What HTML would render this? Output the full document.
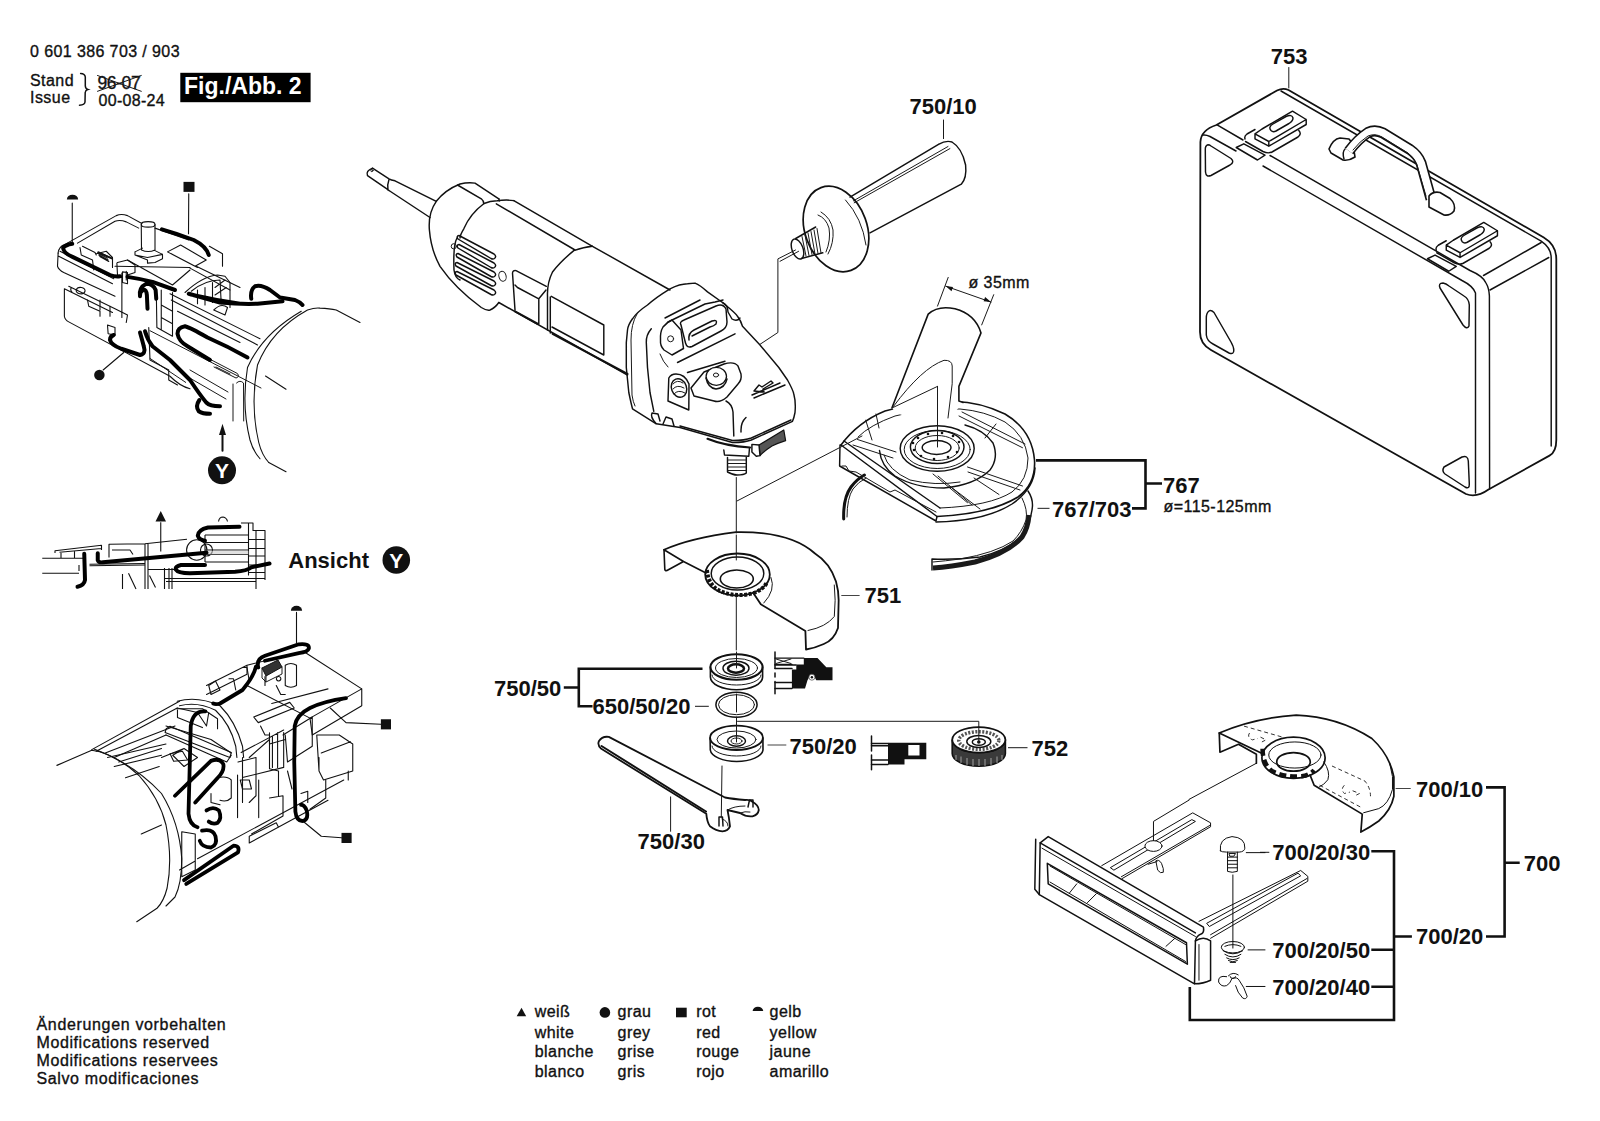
<!DOCTYPE html>
<html><head><meta charset="utf-8">
<style>
html,body{margin:0;padding:0;background:#fff;width:1600px;height:1121px;overflow:hidden}
svg{display:block}
text{font-family:"Liberation Sans",sans-serif;fill:#111}
.r{font-size:16px;letter-spacing:0.45px;stroke:#111;stroke-width:0.35px}
.b{font-size:22px;font-weight:bold}
.k{fill:none;stroke:#111;stroke-width:1.45;stroke-linecap:round;stroke-linejoin:round}
.t{fill:none;stroke:#1a1a1a;stroke-width:1.0;stroke-linecap:round;stroke-linejoin:round}
.br{fill:none;stroke:#111;stroke-width:2.6;stroke-linecap:butt;stroke-linejoin:miter}
.ld{fill:none;stroke:#444;stroke-width:1.2}
.w{fill:none;stroke:#111;stroke-width:4;stroke-linecap:round;stroke-linejoin:round}
.f{fill:#111;stroke:none}
.wf{fill:#fff;stroke:#111;stroke-width:1.3;stroke-linejoin:round}
</style></head><body>
<svg width="1600" height="1121" viewBox="0 0 1600 1121">
<!-- HEADER -->
<g id="header">
<text class="r" x="30" y="57.2" style="letter-spacing:0.4px">0 601 386 703 / 903</text>
<text class="r" x="30" y="86.3">Stand</text>
<text class="r" x="30" y="103.3">Issue</text>
<text class="r" x="97.5" y="88.6" style="font-size:17.5px;letter-spacing:-0.4px">96-07</text>
<path class="t" d="M97.5 75.5 L141.3 91.3 M97.5 91.3 L141.3 75.5"/>
<text class="r" x="98.5" y="105.6" style="letter-spacing:0.3px">00-08-24</text>
<path style="fill:none;stroke:#111;stroke-width:1.5;stroke-linecap:round" d="M80.6 73.4 Q85 73.5 85.3 77 L85.3 86 Q85.5 88.8 87.8 89.4 Q85.5 90 85.2 92.5 L85 102 Q84.8 105 79.5 105.2"/>
<rect x="180.3" y="72.8" width="130.3" height="29.4" fill="#000"/>
<text x="184" y="93.8" style="font-size:23px;font-weight:bold;fill:#fff">Fig./Abb. 2</text>
</g>

<!-- LABELS -->
<g id="labels">
<text class="b" x="909.5" y="113.5">750/10</text>
<text class="b" x="1270.8" y="63.8">753</text>
<text class="r" x="968.5" y="287.6">ø 35mm</text>
<text class="b" x="1163" y="492.5">767</text>
<text class="r" x="1163.5" y="512">ø=115-125mm</text>
<text class="b" x="1052" y="516.5">767/703</text>
<text class="b" x="864.5" y="603.4">751</text>
<text class="b" x="494" y="696.3">750/50</text>
<text class="b" x="592.5" y="713.8">650/50/20</text>
<text class="b" x="789.5" y="753.8">750/20</text>
<text class="b" x="1031.5" y="755.5">752</text>
<text class="b" x="637.6" y="849.4">750/30</text>
<text class="b" x="1416" y="796.7">700/10</text>
<text class="b" x="1272.3" y="860.4">700/20/30</text>
<text class="b" x="1523.8" y="870.9">700</text>
<text class="b" x="1416" y="943.9">700/20</text>
<text class="b" x="1272.3" y="957.8">700/20/50</text>
<text class="b" x="1272.3" y="994.9">700/20/40</text>
<text class="b" x="288.3" y="567.5">Ansicht</text>
<circle cx="396.3" cy="560" r="13.8" class="f"/>
<text x="396.3" y="567.5" text-anchor="middle" style="font-size:21px;font-weight:bold;fill:#fff">Y</text>
<circle cx="222" cy="470.3" r="14" class="f"/>
<text x="222" y="478" text-anchor="middle" style="font-size:21px;font-weight:bold;fill:#fff">Y</text>
</g>

<!-- BRACKETS -->
<g id="brackets">
<path class="br" d="M1036 460.4 H1145.5 V508.4 H1132 M1145.5 483.5 H1162"/>
<path class="ld" d="M1037.5 508.4 H1049.5"/>
<path class="br" d="M563.8 687.5 H578.8 M702.5 668.8 H578.8 V706.3 H592.5"/>
<path class="ld" d="M695 706.3 H708.8 M767.5 745 H786.3 M841.3 595.5 H859.6 M1008 747.7 H1027.5"/>
<path class="br" d="M1486 787.4 H1504.6 V936.5 H1486 M1504.6 862.7 H1519.7"/>
<path class="br" d="M1371.3 851.2 H1394 V1020 H1189.8 V987 M1394 936.5 H1411.9 M1371.3 949.7 H1394 M1371.3 986.8 H1394"/>
<path class="ld" d="M1395.6 788.5 H1410.7 M1260 852.3 H1269.3"/>
</g>

<!-- NOTES -->
<g id="notes" style="letter-spacing:0.55px">
<text class="r" x="36.5" y="1029.8" style="letter-spacing:0.66px">Änderungen vorbehalten</text>
<text class="r" x="36.5" y="1048" style="letter-spacing:0.6px">Modifications reserved</text>
<text class="r" x="36.5" y="1065.8" style="letter-spacing:0.6px">Modifications reservees</text>
<text class="r" x="36.5" y="1084.2" style="letter-spacing:0.62px">Salvo modificaciones</text>
</g>

<!-- LEGEND -->
<g id="legend">
<path class="f" d="M516.7 1016.2 L526.2 1016.2 L521.5 1007.7 Z"/>
<circle class="f" cx="604.9" cy="1012.4" r="5.3"/>
<rect class="f" x="676" y="1007.7" width="10.7" height="9.6"/>
<path class="f" d="M752.6 1011 A5.3 4.3 0 0 1 763.2 1011 Z"/>
<text class="r" x="534.7" y="1017.3">weiß</text>
<text class="r" x="534.7" y="1037.5">white</text>
<text class="r" x="534.7" y="1057.3">blanche</text>
<text class="r" x="534.7" y="1076.8">blanco</text>
<text class="r" x="617.6" y="1017.3">grau</text>
<text class="r" x="617.6" y="1037.5">grey</text>
<text class="r" x="617.6" y="1057.3">grise</text>
<text class="r" x="617.6" y="1076.8">gris</text>
<text class="r" x="696.2" y="1017.3">rot</text>
<text class="r" x="696.2" y="1037.5">red</text>
<text class="r" x="696.2" y="1057.3">rouge</text>
<text class="r" x="696.2" y="1076.8">rojo</text>
<text class="r" x="769.6" y="1017.3">gelb</text>
<text class="r" x="769.6" y="1037.5">yellow</text>
<text class="r" x="769.6" y="1057.3">jaune</text>
<text class="r" x="769.6" y="1076.8">amarillo</text>
</g>

<!-- DRAWINGS -->
<g id="drawings">

<g id="g700" transform="translate(1200 700) scale(0.1375)">
<g style="fill:none;stroke:#111;stroke-width:1.7;stroke-linejoin:round;stroke-linecap:round">
<path vector-effect="non-scaling-stroke" d="M140 240 Q400 130 700 110 Q1000 120 1250 280 Q1380 400 1410 560 L1410 700 Q1390 800 1300 880 Q1230 930 1170 960 L1180 830 L830 620 L800 545"/>
<path vector-effect="non-scaling-stroke" d="M140 240 L145 380 L280 322 L410 395 L410 460 M140 240 L460 392"/>
<ellipse vector-effect="non-scaling-stroke" cx="680" cy="420" rx="230" ry="150"/>
<ellipse vector-effect="non-scaling-stroke" cx="680" cy="450" rx="122" ry="68"/>
</g>
<g style="fill:none;stroke:#111;stroke-width:1;stroke-linejoin:round;stroke-linecap:round">
<ellipse vector-effect="non-scaling-stroke" cx="690" cy="400" rx="190" ry="95"/>
<path vector-effect="non-scaling-stroke" d="M410 460 L-80 723 M1380 460 Q1410 560 1400 650 Q1370 760 1300 790 L1190 820 M900 450 Q950 520 930 580 Q900 620 870 630"/>
</g>
<g style="fill:none;stroke:#333;stroke-width:1;stroke-dasharray:4 3">
<path vector-effect="non-scaling-stroke" d="M320 190 L600 270 M960 480 L1200 590 Q1240 640 1240 700 M870 620 L1170 780 M360 240 Q340 270 380 290 L420 280 M440 270 L480 290 L450 305 M1050 620 Q1020 650 1050 680 L1090 670 M1110 660 L1160 680 L1120 700"/>
</g>
<path style="fill:none;stroke:#111;stroke-width:4.5;stroke-dasharray:7 4" vector-effect="non-scaling-stroke" d="M455 355 Q455 470 530 520 Q620 565 740 555 Q800 545 830 510"/>
</g>
<g id="g700b" transform="translate(1025 800) scale(0.17844)">
<g style="fill:none;stroke:#111;stroke-width:1.5;stroke-linejoin:round;stroke-linecap:round">
<!-- fence -->
<path vector-effect="non-scaling-stroke" d="M85 240 L130 205 L1000 712 Q1005 740 990 750 Q960 760 955 790 L950 1030 L80 530 L85 240 Z"/>
<path vector-effect="non-scaling-stroke" d="M85 240 L955 745 M955 790 Q1000 760 1040 790 L1040 1010 Q1000 1030 950 1030"/>
<path vector-effect="non-scaling-stroke" d="M60 220 L55 500 L80 530"/>
<path vector-effect="non-scaling-stroke" d="M125 355 L905 800 L910 920 L130 470 Z"/>
</g>
<g style="fill:none;stroke:#111;stroke-width:1;stroke-linejoin:round;stroke-linecap:round">
<path vector-effect="non-scaling-stroke" d="M95 270 L955 765 M140 370 L900 810 M140 460 L900 905 M250 520 L290 470 M350 575 L400 525 M790 820 L840 775 M975 810 L975 1010"/>
<!-- rod 1 -->
<path vector-effect="non-scaling-stroke" d="M430 368 L940 72 L1040 128 L1040 150 L545 440 M480 378 L935 110 L955 120 L500 392 Z M540 430 L1040 140"/>
<!-- rod 2 -->
<path vector-effect="non-scaling-stroke" d="M975 680 L1545 395 L1585 428 L1585 455 L1040 775 M1020 690 L1530 410 L1545 425 L1035 708 Z M1040 755 L1580 440"/>
<!-- screw head on rod -->
<ellipse vector-effect="non-scaling-stroke" cx="720" cy="258" rx="48" ry="30" style="fill:#fff"/>
<path vector-effect="non-scaling-stroke" d="M720 228 L720 120 L920 0"/>
<path vector-effect="non-scaling-stroke" d="M735 340 Q750 330 765 355 Q780 390 775 405 Q760 415 745 395 Z M690 360 L740 345"/>
<!-- carriage bolt -->
<path vector-effect="non-scaling-stroke" d="M1095 285 Q1085 215 1160 205 Q1235 210 1232 270 Q1230 290 1200 292 L1130 292 Q1100 292 1095 285 Z"/>
<path vector-effect="non-scaling-stroke" d="M1135 292 L1135 400 Q1160 410 1190 400 L1190 292 M1135 320 L1190 320 M1135 340 L1190 340 M1135 360 L1190 360 M1135 380 L1190 380 M1145 300 L1180 300 L1170 315 L1150 315 Z"/>
<path vector-effect="non-scaling-stroke" d="M1165 420 L1165 830"/>
<!-- cone -->
<ellipse vector-effect="non-scaling-stroke" cx="1165" cy="825" rx="65" ry="32"/>
<path vector-effect="non-scaling-stroke" d="M1110 845 Q1165 880 1220 845 M1120 865 Q1165 895 1210 865 M1130 885 Q1165 905 1200 885 M1140 900 Q1165 915 1190 900 M1150 910 L1180 910 M1120 820 Q1165 800 1210 820"/>
<!-- wing nut -->
<path vector-effect="non-scaling-stroke" d="M1130 990 Q1080 980 1085 1020 Q1100 1050 1130 1040 Q1150 1030 1160 1000 Q1190 990 1200 1010 Q1230 1050 1245 1100 Q1240 1120 1220 1110 Q1190 1080 1180 1040 M1140 985 Q1165 960 1195 980 M1150 990 A15 10 0 1 0 1180 990"/>
<!-- leaders -->
<path vector-effect="non-scaling-stroke" d="M1240 295 L1345 295 M1250 840 L1345 840 M1240 1045 L1345 1045"/>
</g>
</g>

<path style="fill:#333;stroke:#111;stroke-width:1" d="M262 668 L278 660 L282 667 L266 676 Z"/>
<path class="t" d="M262 668 L262 678 L266 682 L266 676 M282 667 L282 674 L266 682"/>
<g id="wd2" transform="translate(40 600) scale(0.225)">
<g style="fill:none;stroke:#111;stroke-width:1.1;stroke-linejoin:round;stroke-linecap:round">
<path vector-effect="non-scaling-stroke" d="M1140 55 L1140 190 M1290 480 L1360 545 L1515 552 M1165 980 L1250 1050 L1340 1057"/>
<!-- cylinder -->
<path vector-effect="non-scaling-stroke" d="M75 735 L230 668 Q330 680 440 780 Q530 880 560 1000 Q590 1150 565 1280 Q550 1340 520 1370 L430 1430"/>
<path vector-effect="non-scaling-stroke" d="M240 662 Q420 730 540 860 Q620 990 630 1150 Q630 1260 600 1320 L560 1360 M450 1040 L540 1000"/>
<path vector-effect="non-scaling-stroke" d="M230 665 L620 450 M250 672 L610 480 M290 680 L600 560 M330 700 L560 600 M350 720 L540 660"/>
<!-- arch -->
<path vector-effect="non-scaling-stroke" d="M610 450 Q700 425 800 470 Q870 540 900 650 L905 700 M620 470 Q700 450 780 490 Q845 550 870 650 L875 700"/>
<!-- housing top -->
<path vector-effect="non-scaling-stroke" d="M740 380 L920 290 L1170 228 L1430 395 L1430 470 L1210 600 L1200 525 L1430 395 M1200 525 L920 380 M1000 340 L1000 380 M920 290 L920 330 L740 420"/>
<path vector-effect="non-scaling-stroke" d="M950 520 L1110 455 L1130 480 L970 545 Z M1030 460 L1280 395 M980 560 L1000 600 L1020 600"/>
<path vector-effect="non-scaling-stroke" d="M1090 290 Q1115 275 1140 290 L1140 380 Q1115 395 1090 380 Z M1050 380 L1070 420 L1090 420 M1060 340 A10 10 0 1 0 1061 340"/>
<path vector-effect="non-scaling-stroke" d="M750 380 L780 360 L800 400 L760 420 Z M840 350 L860 350 L870 400 M900 300 L920 300 L930 360"/>
<!-- middle structure -->
<path vector-effect="non-scaling-stroke" d="M610 480 L700 500 L740 560 L750 500 M560 560 L760 620 L850 680 M560 600 L740 680 L830 720 L850 690 M540 700 L640 660 M590 690 L640 660 L700 700 L640 740 Z"/>
<path vector-effect="non-scaling-stroke" d="M900 700 L900 900 M880 720 L960 700 L960 870 L930 900 M930 700 L1020 620 L1020 750 L1060 760 L1060 870 M1020 880 L1080 870 L1080 960 L940 1040"/>
<path vector-effect="non-scaling-stroke" d="M790 790 Q830 780 850 800 L850 880 Q830 900 800 890 M760 860 L760 900 L800 910 M890 800 L930 800 L940 840 L900 840 Z"/>
<path vector-effect="non-scaling-stroke" d="M1020 590 L1020 640 L1090 620 M1080 600 L1210 520 L1210 650 L1100 720 L1090 600 M1230 600 L1330 600 L1390 640 L1390 760 L1260 800 L1240 760 Z M1250 680 L1380 630 M1240 700 L1240 760"/>
<path vector-effect="non-scaling-stroke" d="M1270 800 L1270 880 L1200 930 M1370 760 L1370 800 M1100 760 L1120 840 M1160 860 L1190 850 L1190 900"/>
<path vector-effect="non-scaling-stroke" d="M561 572 L578 561 L850 678 L844 700 L556 589 Z M578 683 L633 672 L656 711 L594 717 Z M611 489 L611 522 L722 567 M606 483 L722 483 L789 528 L789 572 M1033 606 L1033 744 M1056 589 L1056 744 M1083 589 L1083 744 M894 678 L1083 578 M900 789 L1083 744 M878 778 L878 967 M972 800 L972 967 M300 700 L560 640 M330 740 L540 690 M380 790 L530 740"/>
<!-- housing bottom -->
<path vector-effect="non-scaling-stroke" d="M700 1150 L1350 800 M930 1080 L1280 890 M930 1080 L930 1050 L1050 990 L1060 1010 M620 1200 L690 1160 M630 1030 L690 1040 L690 1200 L630 1230 Z"/>
</g>
<g style="fill:none;stroke:#000;stroke-width:3.8;stroke-linejoin:round;stroke-linecap:round">
<path vector-effect="non-scaling-stroke" d="M970 300 Q960 262 1000 248 L1150 197 Q1198 192 1195 215 Q1190 232 1150 236 L1000 270"/>
<path vector-effect="non-scaling-stroke" d="M960 295 Q950 340 900 400 L800 460 Q780 465 770 460"/>
<path vector-effect="non-scaling-stroke" d="M735 495 Q680 490 670 560 L660 950 Q665 1000 700 1010"/>
<path vector-effect="non-scaling-stroke" d="M600 870 L760 715 Q800 700 815 730 Q820 760 790 790 L690 900"/>
<path vector-effect="non-scaling-stroke" d="M740 935 Q770 915 795 935 Q810 970 790 990 Q770 1000 750 985 M720 1025 Q770 1015 780 1050 Q790 1090 760 1100 Q720 1100 710 1070"/>
<path vector-effect="non-scaling-stroke" d="M1360 436 Q1260 450 1200 480 Q1140 510 1132 560 L1130 720 L1135 940 Q1140 985 1170 982 Q1195 975 1185 935 Q1175 910 1160 910"/>
<path vector-effect="non-scaling-stroke" d="M640 1245 L860 1092 Q890 1092 880 1122 L650 1262"/>
</g>
<g class="f">
<path d="M1115 48 A25 22 0 0 1 1165 48 Z"/>
<rect x="1515" y="530" width="45" height="45"/>
<rect x="1340" y="1035" width="45" height="45"/>
</g>
</g>

<g id="ansicht" transform="translate(40 505) scale(0.15)">
<g style="fill:none;stroke:#111;stroke-width:1.1;stroke-linejoin:round">
<path vector-effect="non-scaling-stroke" d="M805 115 L805 310 M15 355 L290 355 M15 455 L260 455 M100 320 L100 305 L410 268 L410 300 M130 315 L410 290 M140 320 L140 355 M230 310 L230 355 M330 395 L700 390 M330 405 L700 400"/>
<path vector-effect="non-scaling-stroke" d="M460 350 L460 262 L700 258 L980 228 M700 258 L700 560 M720 258 L720 560 M480 300 L600 300 L620 330 M550 460 L550 560 M590 455 L640 560 M730 470 L770 550 M830 420 L830 560 M880 420 L880 560 M860 420 L860 560"/>
<path vector-effect="non-scaling-stroke" d="M830 490 L1500 490 M840 510 L1440 510 M720 430 L900 430 M260 400 L260 440"/>
<path vector-effect="non-scaling-stroke" d="M1390 120 L1420 120 L1420 170 L1500 170 L1500 500 M1440 170 L1440 560 M1390 230 L1500 230 M1390 290 L1500 290 M1390 340 L1500 340 M1390 400 L1500 400 M1390 450 L1500 450 M1340 120 L1390 120 L1390 470"/>
<path vector-effect="non-scaling-stroke" d="M1100 200 L1390 200 M1100 250 L1390 250 M1100 300 L1390 300 M1110 330 L1390 330 M1100 380 L1390 380 M1100 200 L1100 380"/>
<path vector-effect="non-scaling-stroke" d="M1190 110 Q1195 80 1220 80 Q1245 85 1250 110"/>
<circle vector-effect="non-scaling-stroke" cx="1045" cy="300" r="68"/>
<circle vector-effect="non-scaling-stroke" cx="1110" cy="300" r="40"/>
</g>
<path style="fill:#ccc;stroke:none;opacity:0.6" d="M1110 305 L1390 305 L1390 330 L1110 330 Z"/>
<g style="fill:none;stroke:#000;stroke-width:4;stroke-linejoin:round;stroke-linecap:round">
<path vector-effect="non-scaling-stroke" d="M385 322 L385 368 Q390 385 420 382 L1110 318"/>
<path vector-effect="non-scaling-stroke" d="M1330 145 L1120 150 Q1055 165 1052 205 Q1060 232 1100 238"/>
<path vector-effect="non-scaling-stroke" d="M1100 400 L940 400 Q900 410 905 430 Q920 455 1000 455 L1300 445 Q1380 440 1410 415 L1530 390"/>
<path vector-effect="non-scaling-stroke" d="M295 325 L300 500 Q295 535 250 545"/>
</g>
<path class="f" d="M770 110 L840 110 L805 40 Z"/>
</g>

<g id="wd1extra">
<path class="t" d="M233 384 L233 421 M236.5 383 Q240 379.5 243.5 383 L243.7 421 M211.6 360.1 L237.4 373.5 Q240 377 236 378 L214 367 M216 367 L230 374"/>
<path class="t" d="M150 330.7 L261 388 M150 358.4 L185.7 382.4 M190 370 L228 392 M188 377 L226 399"/>
</g>
<g id="wd1" transform="translate(40 180) scale(0.125)">
<g style="fill:none;stroke:#111;stroke-width:1.1;stroke-linejoin:round;stroke-linecap:round" vector-effect="non-scaling-stroke">
<!-- markers leaders -->
<path vector-effect="non-scaling-stroke" d="M258 185 L258 510 M1190 110 L1188 430 M505 1520 L670 1380"/>
<!-- switch box top frame -->
<path vector-effect="non-scaling-stroke" d="M145 585 Q148 535 200 515 L610 285 Q650 268 700 285 L815 348 M300 505 L600 330 Q640 315 690 335 L790 385"/>
<path vector-effect="non-scaling-stroke" d="M145 585 L140 690 Q150 720 190 740 L600 930 M160 570 L590 790 M150 610 L580 830"/>
<!-- connectors on left -->
<path vector-effect="non-scaling-stroke" d="M320 540 L330 600 L420 640 L430 720 M340 530 L440 580 L450 600 M450 590 L530 570 L580 620 L580 700 M470 575 L560 620"/>
<path vector-effect="non-scaling-stroke" d="M460 585 L540 625 M470 600 L545 640 M478 613 L550 652"/>
<!-- shaft -->
<ellipse vector-effect="non-scaling-stroke" cx="865" cy="355" rx="55" ry="22"/>
<path vector-effect="non-scaling-stroke" d="M810 357 L812 560 M920 357 L920 560 M812 560 Q865 585 920 560 M760 575 L820 545 M760 575 L760 600 L860 640 L860 665 L920 660 L980 630 L980 595 L920 565 M760 600 L860 620 L980 595"/>
<!-- top face right part -->
<path vector-effect="non-scaling-stroke" d="M920 385 L1190 480 M1020 575 L1125 520 L1330 640 L1240 690 Z M1050 590 L1260 700 M1355 530 L1460 590 L1460 690 M1250 690 L1600 860 M1200 705 L1520 880"/>
<path vector-effect="non-scaling-stroke" d="M620 660 L700 640 L760 680 L760 740 L700 760 M615 665 L620 760 L650 780 M690 730 L690 800 M655 745 L655 1100"/>
<path vector-effect="non-scaling-stroke" d="M660 735 L700 740 L700 830 L660 820 Z"/>
<path vector-effect="non-scaling-stroke" d="M600 690 L1200 700 M700 640 L1060 840 L1200 720"/>
<!-- central vertical block -->
<path vector-effect="non-scaling-stroke" d="M930 870 L935 1180 L1060 1250 L1060 900 M970 880 L970 1200 M970 1000 L1060 1050 M970 1100 L1060 1150"/>
<!-- lower box -->
<path vector-effect="non-scaling-stroke" d="M195 870 L195 1090 Q200 1120 230 1135 L1040 1570 Q1120 1650 1200 1670 M195 870 L580 1060 M230 850 L600 1030 L700 1080 L690 1140"/>
<path vector-effect="non-scaling-stroke" d="M250 860 Q240 880 255 895 M290 880 A35 25 0 1 0 360 890 A35 25 0 1 0 290 880 M380 960 L390 1010 L480 1050 L480 1090 M480 960 L480 1040 M560 1010 L560 1090"/>
<path vector-effect="non-scaling-stroke" d="M540 1160 L600 1180 L600 1240 L545 1230 Z M870 1180 L880 1440 L1030 1520 L1030 1600 L1100 1640"/>
<path vector-effect="non-scaling-stroke" d="M1040 910 L1760 1270 M1050 960 L1740 1320 M1100 1050 L1600 1300"/>
<!-- cylinder -->
<path vector-effect="non-scaling-stroke" d="M2140 1040 Q1850 1200 1740 1480 Q1680 1800 1750 2100 Q1775 2200 1830 2260 M2140 1040 Q2200 1020 2240 1025 Q2320 1030 2370 1040 L2560 1140"/>
<path vector-effect="non-scaling-stroke" d="M2090 1050 Q1780 1230 1660 1500 Q1610 1800 1680 2080 Q1705 2170 1760 2230 M1830 2260 L1968 2334 M1804 1568 L1968 1674"/>
<!-- ribs in arch -->
<path vector-effect="non-scaling-stroke" d="M1160 900 Q1300 770 1420 760 L1480 770 L1520 820 L1520 1020 M1210 890 Q1320 800 1440 800 L1450 990 M1260 880 L1260 990 M1320 860 L1320 1000 M1380 820 L1380 980 M1400 860 L1480 800 M1400 920 L1490 860 M1390 1040 Q1450 980 1500 1020 L1480 1080 Z"/>

<!-- Y arrow -->
<path vector-effect="non-scaling-stroke" style="stroke-width:2" d="M1460 2165 L1460 2030"/>
</g>
<!-- wires -->
<g style="fill:none;stroke:#000;stroke-width:4;stroke-linejoin:round;stroke-linecap:round">
<path vector-effect="non-scaling-stroke" d="M258 510 Q200 520 185 545 Q190 585 260 615 L560 760 Q600 775 640 770"/>
<path vector-effect="non-scaling-stroke" d="M700 775 Q800 790 900 815 L1080 880"/>
<path vector-effect="non-scaling-stroke" d="M975 395 Q1100 430 1230 480 Q1330 530 1350 600"/>
<path vector-effect="non-scaling-stroke" d="M860 1030 L855 920 Q850 870 825 880 Q795 895 800 930 M800 930 Q790 860 850 830 Q905 830 925 880 L930 950"/>
<path vector-effect="non-scaling-stroke" d="M1190 910 L1440 980 Q1600 995 1740 990 L1940 970 M1200 915 Q1400 960 1600 990"/>
<path vector-effect="non-scaling-stroke" d="M1690 950 Q1680 880 1720 850 Q1770 835 1840 880 L1920 940 Q1980 950 2040 960 Q2080 975 2100 1000"/>
<path vector-effect="non-scaling-stroke" d="M1660 1420 Q1500 1330 1340 1260 Q1200 1180 1160 1170 Q1100 1180 1100 1230 Q1110 1290 1180 1330 L1360 1440"/>
<path vector-effect="non-scaling-stroke" d="M590 1240 Q560 1250 560 1280 Q570 1320 650 1350 L800 1400 Q850 1390 830 1330 Q820 1290 800 1220"/>
<path vector-effect="non-scaling-stroke" d="M840 1210 Q860 1280 900 1330 L1040 1440 Q1120 1520 1200 1600 Q1280 1720 1330 1780 Q1360 1810 1440 1810"/>
<path vector-effect="non-scaling-stroke" d="M1275 1760 Q1240 1810 1270 1850 Q1300 1870 1360 1870"/>
</g>
<g class="f">
<path class="f" d="M462 570 L582 621 L576 636 L456 585 Z"/>
<path d="M215 155 A45 38 0 0 1 305 155 Z"/>
<rect x="1148" y="15" width="88" height="80"/>
<circle cx="475" cy="1560" r="42"/>
<path d="M1432 2040 L1488 2040 L1460 1950 Z"/>
</g>
</g>

<g id="guard751">
<path class="k" style="stroke-width:1.8" d="M664 549.8 Q690 538 736 532.1 Q790 531 815 553.5 Q830 563 836 581.5 Q839 592 838.6 602.5 L838 628 Q834 640 823.8 644 Q815 648 806 649.5 L805.4 631 L760.8 604.3 L753.8 593.8"/>
<path class="k" style="stroke-width:1.6" d="M664 549.8 L664.8 569.3 Q665 571 667 570.5 L683.5 561.5 L664 549.8 M683.5 561.5 L706 573"/>
<path class="t" d="M834.3 585 Q836 600 834.3 616.5 Q826 627 808 630.5 M771 577.5 Q776 590 763.8 603"/>
<!-- collar -->
<ellipse class="k" style="stroke-width:1.8" cx="737.5" cy="574.5" rx="32.3" ry="21"/>
<ellipse class="k" cx="737.5" cy="573.5" rx="26.3" ry="16.5"/>
<ellipse class="k" style="stroke-width:1.6" cx="736.8" cy="579" rx="16.5" ry="9"/>
<path style="fill:none;stroke:#111;stroke-width:4;stroke-dasharray:3 1.6" d="M707 570 Q708 585 720 591 Q737 598 754 593 Q764 589 767 582"/>
<path class="t" d="M736.3 477.5 L736.3 533 M736.3 535 L736.3 560 M736.3 597 L736.3 650"/>
</g>
<g id="flanges">
<!-- 750/50 -->
<path class="k" style="stroke-width:1.6" d="M710.4 667 L710.4 677 A26.1 12.75 0 0 0 762.6 677 L762.6 667"/>
<ellipse class="k" style="stroke-width:2" cx="736.5" cy="667" rx="26.1" ry="12.75"/>
<ellipse class="t" cx="736.5" cy="668" rx="21" ry="9.5"/>
<ellipse class="k" cx="736" cy="668.2" rx="13" ry="7"/>
<ellipse class="k" style="stroke-width:2.5" cx="736" cy="668.5" rx="8" ry="4.2"/>
<path class="t" d="M712 675 A24.5 10 0 0 0 761 675"/>
<!-- ring -->
<ellipse class="k" style="stroke-width:1.5" cx="736.5" cy="704.7" rx="20.6" ry="12.5"/>
<ellipse class="t" cx="736.5" cy="704.7" rx="18" ry="10"/>
<!-- 750/20 -->
<path class="k" style="stroke-width:1.6" d="M710.1 738 L710.3 750 A26.4 12.2 0 0 0 763 750 L762.9 738"/>
<ellipse class="k" style="stroke-width:1.8" cx="736.5" cy="737.8" rx="26.4" ry="12.2"/>
<ellipse class="t" cx="736.5" cy="739.5" rx="19.5" ry="8.5"/>
<ellipse class="k" cx="736.5" cy="741" rx="9" ry="5.3"/>
<ellipse class="t" cx="736.5" cy="741" rx="5.5" ry="3"/>
<path class="t" d="M712 746 A24.5 10 0 0 0 761 746"/>
<!-- axis pieces -->
<path class="t" d="M736.5 652 L736.5 668 M736.5 694 L736.5 712 M736.5 717 L736.5 742 M737.5 721.3 H978.8 V745 M722 766 L721.3 817"/>
</g>
<g id="xsec1">
<path class="f" d="M803.8 658.1 L817.5 658.1 L826.3 667.2 L832.5 667.2 L832.5 680.3 L816.3 680.3 L814.5 677 L809 677.5 L807.5 680.3 L805 688.4 L791.9 688.4 L791.9 669.4 L796.3 669.4 L796.3 664.4 L803.8 664.4 Z"/>
<circle cx="811.9" cy="677.2" r="3" fill="#fff" stroke="#555" stroke-width="0.8"/>
<circle class="f" cx="811.9" cy="677.2" r="1.2"/>
<path class="k" style="stroke-width:1.5" d="M775 652 L775 668.5 M775 673 L775 677 M775 681.5 L775 693.8"/>
<path class="k" d="M775 658.1 H803.8 M775 664.4 L792 664.4 M775 665 H796 M775 668.4 H792 M775 682.5 H792 M775 688.4 H792"/>
<path class="t" d="M776 659 L791 663.5 M776 663.5 L791 659"/>
</g>
<g id="xsec2">
<path class="f" d="M888 742.8 L926.3 742.8 L926.3 759.3 L904.5 759.3 L904.5 764.5 L888 764.5 Z"/>
<rect x="908.3" y="745" width="11.2" height="10.5" fill="#fff"/>
<path class="k" style="stroke-width:1.5" d="M871.5 736 L871.5 751 M871.5 755 L871.5 769.8"/>
<path class="k" d="M871.5 743.5 H888 M871.5 745.8 H888 M871.5 760 H888 M871.5 764.5 H888"/>
</g>
<g id="nut752">
<path style="fill:#3a3a3a;stroke:#111;stroke-width:1.6" d="M952.2 739.8 L952.2 753.5 A26.6 12.75 0 0 0 1005.4 753.5 L1005.4 739.8 A26.6 12.75 0 0 1 952.2 739.8 Z"/>
<path style="fill:none;stroke:#bbb;stroke-width:0.8" d="M956 755 L956 760 M961 756.5 L961 763 M967 758 L967 765 M973 759 L973 766 M979 759 L979 766 M985 759 L985 766 M991 758 L991 765 M997 756.5 L997 763 M1002 755 L1002 760"/>
<ellipse style="fill:#fff;stroke:#111;stroke-width:1.8" cx="978.8" cy="739.8" rx="26.6" ry="12.75"/>
<ellipse style="fill:none;stroke:#555;stroke-width:3.5;stroke-dasharray:2 1.5" cx="978.8" cy="740.5" rx="20" ry="8.8"/>
<ellipse class="k" cx="978.8" cy="741.5" rx="12" ry="6" style="fill:#fff"/>
<ellipse class="k" cx="978.8" cy="742" rx="6.5" ry="3.3"/>
<circle class="f" cx="978.8" cy="742" r="1.8"/>
<path class="t" d="M978.8 727 V742"/>
</g>
<g id="wrench">
<path class="k" style="stroke-width:1.8" d="M601.3 748.8 Q597 745 599 741 Q602 736 608.8 736.9 L725 797.5 Q733 799 745 800 Q750 799.5 752 801.5 Q758.5 805 758.8 810 Q758 815 752.5 816.3 Q746 817 740 813 L727.5 810 Q729 817 730 826.3 Q728 831 722.5 831.3 Q716 831 710 826.3 Q707 822 706.3 813.8 L601.3 748.8 Z"/>
<path class="k" style="stroke-width:2" d="M601.5 746 L706 811.5"/>
<path class="t" d="M727.5 810 Q734 806 745 806 M740 813 Q745 811 750 812 M722 819 Q728 821 728 826"/>
<path class="k" d="M748 807 L749.5 800 L753 800 L753 807 M719 826 L719 817 L722.5 817 L723 826"/>
<path class="t" d="M670.6 796.9 L670.6 831.3"/>
</g>

<g id="dustguard">
<!-- brush ring left piece -->
<path class="k" style="stroke-width:3" d="M843.7 519 Q843 498 851 487 Q857 479 864.4 475"/>
<path class="t" d="M847 517 Q847 498 853 489 Q858 482 866 478"/>
<!-- brush ring right/bottom -->
<path class="k" d="M1028 491 Q1034 500 1032 510 Q1030 525 1020 538 Q1005 551 980 557 Q955 560 932 559 L932 570"/>
<path class="t" d="M1022 498 Q1028 510 1026 520 Q1022 532 1013 541 Q995 553 960 559 Q945 561 933 562"/>
<path style="fill:none;stroke:#1a1a1a;stroke-width:5" d="M1029 515 Q1028 528 1022 537 Q1008 553 975 562 Q950 567 933 568"/>
<!-- main plate -->
<path class="k" style="stroke-width:1.6" d="M937 516.5 Q990 514 1018 497 Q1036 484 1034.5 460 Q1032 430 1005 414 Q980 402 955 401.5 Q920 401 885 411 Q858 422 841 445"/>
<path class="k" d="M841 445 L937 516.5 M840 445 L839.6 466 L936 521 L937 516.5"/>
<path class="k" d="M844 441 L940 508"/>
<path class="k" d="M936 522 Q985 521 1012 504 Q1034 489 1035 468"/>
<path class="t" d="M940 508 Q990 506 1012 492 Q1028 480 1028 458 Q1025 435 1005 422 Q985 411 960 409 Q925 408 895 416 Q870 425 858 437"/>
<path class="t" d="M842 466 L846 466 L849 471 L856 472 L890 492 L895 490 L936 512"/>
<!-- inner disc -->
<path class="k" d="M879.5 450.5 Q881 466 895 476 Q915 488 944 488 Q975 485 990 470 Q999 458 993 443 Q984 430 965 425"/>
<path class="t" d="M884 455 Q888 470 910 480 Q935 486 960 482"/>
<!-- hub -->
<ellipse class="k" cx="937.2" cy="448.5" rx="37" ry="22.7"/>
<ellipse class="t" cx="937.2" cy="449.5" rx="33" ry="19"/>
<ellipse class="k" cx="937.2" cy="447" rx="26.8" ry="16.5"/>
<ellipse class="t" cx="937.2" cy="448" rx="22" ry="12.5"/>
<ellipse class="k" cx="936.6" cy="447.5" rx="14.4" ry="7"/>
<g class="f"><circle cx="913" cy="443" r="1.3"/><circle cx="918" cy="438" r="1.3"/><circle cx="928" cy="434" r="1.3"/><circle cx="942" cy="433" r="1.3"/><circle cx="953" cy="436" r="1.3"/><circle cx="959" cy="442" r="1.3"/><circle cx="957" cy="452" r="1.3"/><circle cx="948" cy="457" r="1.3"/><circle cx="934" cy="459" r="1.3"/><circle cx="921" cy="456" r="1.3"/><circle cx="914" cy="450" r="1.3"/></g>
<!-- ribs -->
<path class="t" d="M857.5 439.5 L896 452 M853 445 L893 458 M865.7 420.2 L872 440 M876 414 L879 428 M959 416 L1022.5 447.7 M962 412 L1025 444 M967.5 467 L1022.5 486 M968 472 L1020 490 M974 478 L999 494.5 M933 474 L967.5 502.7 M938 476 L972 505 M949.6 486 L980 509 M985 438 L996 424"/>
<!-- dust port -->
<path style="fill:#fff;stroke:none" d="M892 407.8 L928.2 314.1 Q938 305 955 308.8 Q975 314 981 332.9 L958.9 386.4 L958.9 401.1 L963 402.4 L950 418 L920 423 L895 412 Z"/>
<path class="k" style="stroke-width:1.6" d="M892 407.8 L928.2 314.1 Q938 305 955 308.8 Q975 314 981 332.9 L958.9 386.4 L958.9 401.1 L963 402.4"/>
<path class="t" d="M893.4 406.5 Q922 368 944 360.3 Q952 360 952.2 366 L952.2 383.7 L948 418 M892 408 L937.5 386.4 M937.5 386.4 L937.5 447"/>
<path class="t" style="stroke-dasharray:2 1.5" d="M937.5 388 L937.5 446"/>
<!-- dimension -->
<path class="t" d="M948.2 277.4 L937.5 306.1 M993.7 294.7 L981.7 324.9 M945.6 286.1 L991 302.1"/>
<path class="f" d="M945.6 286.1 L953 287 L951.5 291.3 Z M991 302.1 L983.6 301.2 L985.1 296.9 Z"/>
<!-- leader to hub -->
<path class="t" d="M737 501 L862 436"/>
</g>

<g id="grinder">
<!-- cord -->
<path class="k" d="M372.5 168.1 L389 178.8 Q391 180 395 180.8 L436.3 201.3 M367.5 175.6 L386.5 188.6 Q389 190.5 390.5 191.5 L430 217.5 M367.5 175.6 Q365.5 171 372.5 168.1 M389 179.5 Q387 185 388 190"/>
<circle class="t" cx="371.9" cy="170.6" r="1.1"/>
<!-- rear cap -->
<path class="k" d="M436.3 201.3 Q445 190 460 184 Q468 182 475 183.1 L498.8 198.8 M436.3 201.3 Q428 213 429.4 230 Q431 250 440 266.3 Q455 288 481.3 307.5 Q487 311 490 310 Q495 308 498.8 302.5"/>
<path class="k" d="M457.5 185 L481.3 198.8 Q484 201 483.8 203.8"/>
<path class="k" d="M484 203.5 Q490 201 497 200.8 Q506 199.5 513.8 200.6 M484 203.5 Q470 214 463.8 228.8 Q460 235 460 238 M498.8 198.8 L499.5 201"/>
<!-- top lines -->
<path class="k" d="M513.8 200.6 L592.5 246.3 L670 290"/>
<path class="k" d="M496.3 203.8 L575 250"/>
<path class="k" d="M592.5 246.3 Q584 247 573.8 250.6 Q560 262 552.5 272 Q547 283 547.5 296 L547.5 330"/>
<path class="k" d="M550.3 297 L550.3 333"/>
<!-- vents -->
<g class="k">
<path d="M458 239 Q456 236 459 235.5 L494 254 Q497 256.5 494.5 258.5 Q493 259.5 491 258.5 Z"/>
<path d="M458 248 Q456 245 459 244.5 L494 263 Q497 265.5 494.5 267.5 Q493 268.5 491 267.5 Z"/>
<path d="M457 257 Q455 254 458 253.5 L494 272 Q497 274.5 494.5 276.5 Q493 277.5 491 276.5 Z"/>
<path d="M456 266 Q454 263 457 262.5 L494 281 Q497 283.5 494.5 285.5 Q493 286.5 491 285.5 Z"/>
<path d="M456 275 Q454 272 457 271.5 L494 290 Q497 292.5 494.5 294.5 Q493 295.5 491 294.5 Z"/>
<path d="M457 238 Q453 245 454 270 Q455 278 460 280"/>
</g>
<circle class="t" cx="453.8" cy="246.3" r="2.6"/>
<ellipse class="t" cx="502.5" cy="276.3" rx="3.6" ry="5" transform="rotate(-15 502.5 276.3)"/>
<!-- switch -->
<path class="k" d="M512.5 273 Q513 270 516 270.6 L546.3 286.3 M512.5 273 L515 310 M517.5 287.5 L538.8 298.8 L538.8 324 M538.8 298.8 L546 290 M517.5 287.5 L515 285"/>
<!-- grip rect -->
<path class="k" d="M551.3 296.3 L603.8 325 L603.8 355 M552 327 L603.8 355"/>
<!-- body bottom -->
<path class="k" d="M498.8 302.5 L627.5 375"/>
<path class="k" style="stroke-width:2" d="M515 311.3 L538 324 M552.5 333.8 L627.5 374"/>
<!-- gear head -->
<path class="k" d="M670 288.8 Q680 284 687.5 283.8 L695 283.1 Q700 285 707.5 291.9 L722.5 302.5 L730 308.8 Q736 314 737.5 316.3 Q741 321 742.5 326.3 L760 345 L778.8 367.5 L787.5 380 Q793 390 793.8 394 Q796 402 795 412.5 Q794 418 792.5 421.3 L751.3 440 Q745 442.5 732.5 442.5 L680 427.5 L656.3 423.8 L632.5 408.8 Q631 403 628.8 392.5 L626.3 367.5 L626.3 342.5 L627.5 330 Q628 325 632.5 318.8 Q637 312 647.5 305 Q655 298 670 288.8 Z"/>
<path class="k" d="M651.3 328.8 Q646 335 646.3 342.5 L647.5 367.5 L650 392.5 L653.8 411.3"/>
<path class="t" d="M637 314 Q631 324 631 340 L632 395 Q633 402 635 406"/>
<path class="k" d="M680 426 L732.5 440.5 Q745 440.5 751.3 438 L791 420"/>
<path class="k" style="stroke-width:2.2" d="M707.5 438.8 Q725 446 750 447.5"/>
<path class="k" d="M656 423.5 Q650 417 652 413 L658 414 L660 421 M663 424 L666 417 L672 419 L674 426"/>
<!-- top window -->
<path class="k" d="M681 325 Q679 322 684 320 L716 306 Q723 303 726 309 L727 322 Q727 328 721 331 L692 346.5 Q687 348.5 685.5 343 Z"/>
<path class="k" d="M689 340 Q688 333 694 330 L712 321 Q718 319 716 324 Q714 326 710 327 L692 336"/>
<path class="k" d="M663 327 Q660 332 660.5 340 Q660 346 664 350 L672 355 L683.5 348.5 L681 330 L672 320 Q667 322 663 327 Z"/>
<circle class="t" cx="670.6" cy="338.8" r="3"/>
<path class="k" d="M665 318 L700 300 M668 322 L705 304 L715 302 L723 300"/>
<path class="k" d="M677.5 362.5 L735 333.8 M687.5 372.5 L725 361.3"/>
<path class="k" d="M722.5 302.5 Q728 305 728 312 L732 319 Q737 322 740 318"/>
<path class="t" d="M660 354 Q663 362 668 367"/>
<!-- spindle lock -->
<path class="k" d="M691 388 L704 372 L724 364 Q734 361 738 366 L741 374 Q742 380 738 384 L727 397 Q720 403 714 401 L694 396 Z"/>
<ellipse class="wf" cx="716.3" cy="376.3" rx="10.2" ry="9"/>
<path class="k" d="M706 378 Q708 388 716 389 Q725 388 727 379"/>
<ellipse class="t" cx="716" cy="375" rx="2.6" ry="2"/>
<!-- threaded hole -->
<path class="k" d="M668.8 378 L668 401 L688.8 410 L689 384 Q685 374 676 374 Q671 374 668.8 378 Z"/>
<ellipse class="k" cx="679" cy="388" rx="7.5" ry="9.5" transform="rotate(-20 679 388)"/>
<path class="t" d="M673 384 Q677 379 683 383 M673 389 Q677 384 684 388 M674 394 Q678 389 685 393"/>
<!-- arrow -->
<path class="k" d="M754 391 L759 385 L762 387 L771 381 L773 383 L763 389 L764 392 Z M752 395 L780 383 M754 398 L785 385"/>
<path class="k" d="M726 401 Q732 404 733 412 L733.8 436 M746 417.5 Q741 422 741 430 L741 432"/>
<!-- spindle -->
<path class="k" d="M723.8 450 L724.5 455 L748.8 456.3 L749.5 448 M727.5 457.5 L727.5 472 Q733 475 737 475 Q744 475 746.3 473 L746.3 457"/>
<path class="t" d="M727.5 460 L746.3 460 M727.5 463.5 L746.3 463.5 M727.5 467 L746.3 467 M727.5 470.5 L746.3 470.5"/>
<path style="fill:#555;stroke:#111;stroke-width:1.2;stroke-linejoin:round" d="M759 445 L783.8 430 L785.6 440.6 Q778 443 772 446 Q764 451 760 455.6 Z"/>
<path class="k" style="fill:#fff" d="M751.9 444.4 L759 445 L760 455.6 L756.3 456.3 L751.9 451.9 Z"/>
</g>
<g id="handle">
<path class="k" d="M938.5 144.3 Q946 140 952 142 Q962 148 965.6 165 Q967 178 961.3 184.2 L870 232.8 M938.5 144.3 L850 197.1"/>
<path class="t" d="M949.9 148.6 L854.2 202.8 M948 146.5 L853.5 200.8"/>
<ellipse class="k" style="stroke-width:1.7" cx="836" cy="229" rx="31" ry="44" transform="rotate(-20 836 229)"/>
<path class="t" d="M845.5 200 Q862 218 866 245"/>
<path class="k" d="M795.7 238.5 L815.7 227 M801.4 258.5 L822.8 252.8"/>
<ellipse class="k" cx="797.5" cy="249" rx="5.5" ry="10.5" transform="rotate(-20 797.5 249)"/>
<path class="t" d="M802 236.5 L806 256 M805 235 L809 255.5 M808 233 L812 254.5 M811 231.5 L815 254 M814 230 L818 253.5 M817 228.5 L821 253"/>
<path class="t" d="M818 215 Q826 218 829 228 Q831 240 826 252 M821 212 Q831 218 833 230 Q834 243 828 254"/>
<path class="t" d="M798.6 251.3 L780 261.3 M795.5 250 L777.9 258.9 L777.9 332.5 L760.2 344.2"/>
<path class="t" d="M943.5 120 L943.5 138.6"/>
</g>

<g id="case">
<path class="t" d="M1288.8 67.5 L1288.8 88"/>
<!-- silhouette -->
<path class="k" style="stroke-width:1.8" d="M1288.5 90 L1543.8 237.5 Q1556.3 245 1556.3 259 L1556.3 440 Q1556.3 452 1549.5 455.6 L1488.5 489.5 Q1476.6 498 1466 494 L1211 350 Q1200 344 1200 332 L1200.4 142 Q1201 130 1216.4 125 L1277 90.5 Q1283 87.5 1288.5 90 Z"/>
<!-- top face lines -->
<path class="k" d="M1217.5 125.2 L1243 140"/>
<path class="k" d="M1270 155.5 L1470 270.5 Q1483 276 1486 283 Q1489 288 1489.4 296 L1489.6 489"/>
<path class="k" d="M1203 135.1 Q1206 134.6 1210 136.5 L1236 151 M1263 166 L1462 280.5 Q1473 286 1475.5 293 L1475.5 493"/>
<path class="k" d="M1281 91 L1541.2 241.2 Q1551.2 248 1551.2 258 L1551.2 446"/>
<!-- right face top -->
<path class="k" d="M1483.5 275.5 L1541.2 242.5 M1490 290 L1548.8 257.5"/>
<!-- corner triangles -->
<path class="k" d="M1208 144.8 Q1205 145.5 1205.3 150 L1205.5 172 Q1206 177.5 1211 175.5 L1230 165 Q1235 162 1231 158.5 L1211 146 Q1209.5 144.8 1208 144.8 Z"/>
<path class="k" d="M1209 311 Q1206.3 313 1206.3 318 L1206.3 335 Q1207 341 1213 344 L1229 353 Q1234 355 1233.8 350 Q1233.8 347 1231 342 L1214 312.5 Q1211 309.5 1209 311 Z"/>
<path class="k" d="M1444 467 Q1441.5 471 1445 474 L1465 487 Q1469.5 489.5 1469.3 484 L1468.3 461 Q1467.8 455 1462 457 Z"/>
<path class="k" d="M1443 283 Q1438 283 1440 288 L1463 325 Q1467 330 1469 326 L1469.3 305 Q1469 299 1464 296 L1449 286 Q1446 283.5 1443 283 Z"/>
<!-- handle -->
<path class="k" style="fill:#fff;stroke-width:1.6" d="M1329 149 Q1333 139 1340 138 L1349 139 L1353 144 L1355 157 Q1349 161 1343 160 L1331 153 Z"/>
<path d="M1349 151 Q1358 139 1368 132.5 Q1375 129 1383 133 L1410 149.5 Q1418 155 1421 163 L1431 199" style="fill:none;stroke:#111;stroke-width:11;stroke-linecap:butt;stroke-linejoin:round"/>
<path d="M1349 151 Q1358 139 1368 132.5 Q1375 129 1383 133 L1410 149.5 Q1418 155 1421 163 L1431 199" style="fill:none;stroke:#fff;stroke-width:7.8;stroke-linecap:butt;stroke-linejoin:round"/>
<path class="t" d="M1353 150 Q1360 141 1368 136 Q1375 133 1382 137 L1408 153 Q1414 157 1417 165 L1426 196"/>
<path class="k" style="fill:#fff;stroke-width:1.6" d="M1429 196 Q1433 191 1440 192.5 L1450 198.5 Q1456 204 1454 211 Q1450 216 1444 215 L1429 207 Z"/>
<path class="k" d="M1345 149 Q1342 152 1344 159"/>
<!-- latches -->
<g id="latch1">
<path class="k" d="M1255 133.8 L1262 129 L1292.5 111.2 L1306.2 119.5 L1306.2 124.5 L1268.8 146.2 L1255 138.8 Z M1255 133.8 L1268.8 141.5 L1306.2 119.5 M1268.8 141.5 L1268.8 146.2"/>
<path class="k" d="M1271 130.5 Q1268 127 1273 124 L1286 116.5 Q1292 114 1293 118 Q1293 121 1289 123.5 L1276 131 Q1273 132.5 1271 130.5 Z"/>
<path class="k" d="M1245 139 Q1244 136 1247 134 L1255 129.5 M1298.8 130.5 Q1302 134 1298 137 L1272 152 Q1268 154 1263 151.5 L1245.5 141.5"/>
<path class="k" d="M1236.2 147.5 L1243.8 143.8 L1265 155.2 L1257.5 160 Z"/>
</g>
<use href="#latch1" transform="translate(191.25 111.25)"/>
</g>
</g>
</svg>
</body></html>
